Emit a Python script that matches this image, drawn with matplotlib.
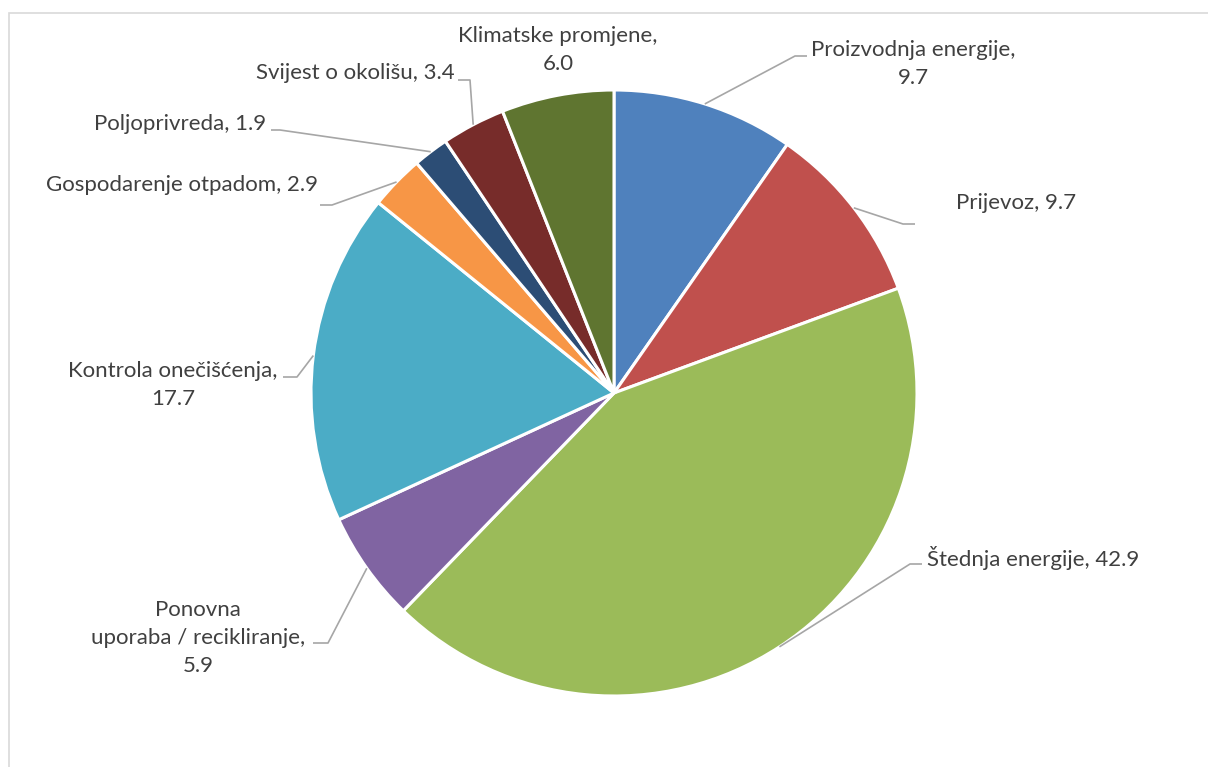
import matplotlib
matplotlib.use('Agg')
import matplotlib.pyplot as plt
import matplotlib.patches as mpatches
import numpy as np

# data
categories = ['Proizvodnja energije', 'Prijevoz', 'Štednja energije',
              'Ponovna uporaba / recikliranje', 'Kontrola onečišćenja',
              'Gospodarenje otpadom', 'Poljoprivreda', 'Svijest o okolišu',
              'Klimatske promjene']
values = [9.7, 9.7, 42.9, 5.9, 17.7, 2.9, 1.9, 3.4, 6.0]
colors = ['#4F81BD', '#C0504D', '#9BBB59', '#8064A2', '#4BACC6',
          '#F79646', '#2C4D75', '#772C2A', '#5F7530']

# label text as shown (line breaks as in the chart)
label_text = ['Proizvodnja energije,\n9.7', 'Prijevoz, 9.7', 'Štednja energije, 42.9',
              'Ponovna\nuporaba / recikliranje,\n5.9', 'Kontrola onečišćenja,\n17.7',
              'Gospodarenje otpadom, 2.9', 'Poljoprivreda, 1.9', 'Svijest o okolišu, 3.4',
              'Klimatske promjene,\n6.0']

W, H = 1208, 767
# layout in pixel coords (y from top): text anchor, ha, elbow, elbow end
layout = [
    ((811, 64), 'left', (795, 56), (807, 56)),
    ((956, 203), 'left', (903, 224), (915, 224)),
    ((927, 558), 'left', (910, 564), (922, 564)),
    ((198, 638), 'center', (328, 643), (313, 643)),
    ((173, 385), 'center', (297, 377), (283, 377)),
    ((318, 185), 'right', (332, 205), (320, 205)),
    ((266, 124), 'right', (280, 130), (271, 130)),
    ((455, 73), 'right', (470, 80), (458, 80)),
    ((558, 50), 'center', None, None),
]

plt.rcParams['font.family'] = ['Lato', 'DejaVu Sans']
fig = plt.figure(figsize=(W / 100, H / 100), dpi=100)
ax = fig.add_axes([0, 0, 1, 1])

def py(y):
    return H - y   # pixel row to data y

# chart border (light gray, runs off the right and bottom)
ax.add_patch(mpatches.Rectangle((9, -10), W + 20, py(13) + 10, fill=False,
                                ec='#D9D9D9', lw=1.2))

cx, cy, R = 614, py(393), 303
wedges, _ = ax.pie(values, colors=colors, startangle=90, counterclock=False,
                   center=(cx, cy), radius=R, frame=True,
                   wedgeprops=dict(edgecolor='white', linewidth=2.2))
ax.set_xlim(0, W)
ax.set_ylim(0, H)
ax.axis('off')

for w, txt, (tpos, ha, elbow, eend) in zip(wedges, label_text, layout):
    mid = np.deg2rad((w.theta1 + w.theta2) / 2)
    sx, sy = cx + R * np.cos(mid), cy + R * np.sin(mid)
    if elbow is not None:
        ax.plot([sx, elbow[0], eend[0]], [sy, py(elbow[1]), py(eend[1])],
                color='#A6A6A6', lw=1.2, solid_capstyle='butt')
    ax.text(tpos[0], py(tpos[1]), txt, ha=ha, va='center', multialignment='center',
            fontsize=16, color='#404040', linespacing=1.5)

fig.savefig('out.png', dpi=100, facecolor='white')
